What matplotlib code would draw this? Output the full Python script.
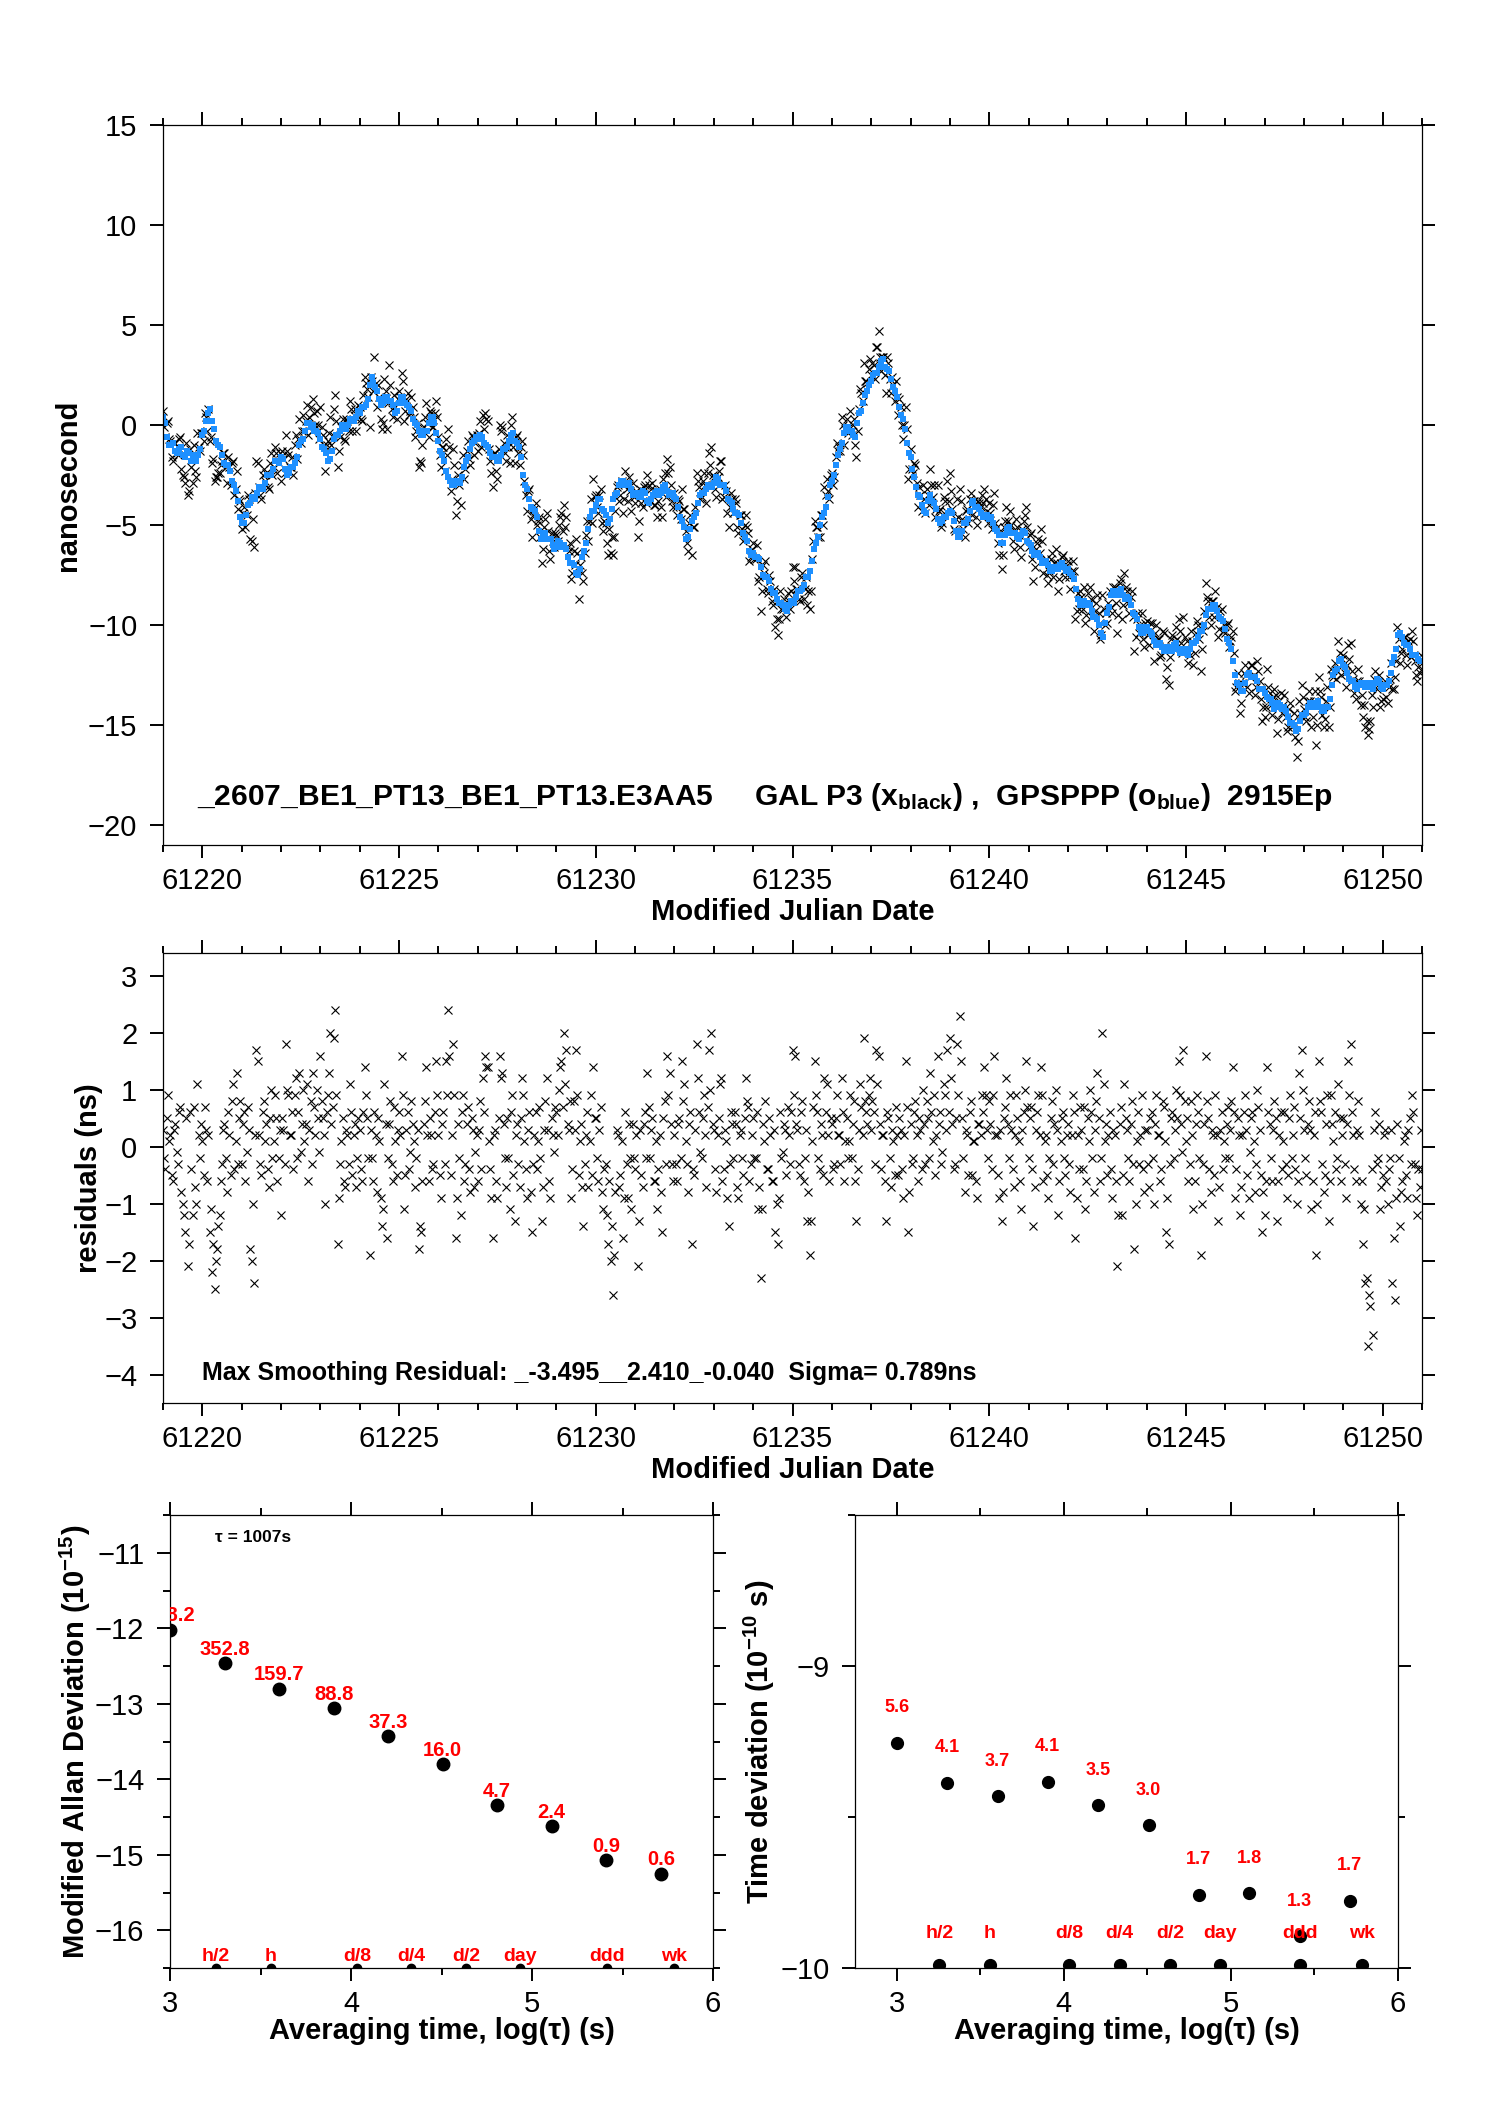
import numpy as np
import matplotlib
matplotlib.use('Agg')
import matplotlib.pyplot as plt
from matplotlib.ticker import MultipleLocator, FormatStrFormatter

plt.rcParams['font.family'] = ['Liberation Sans', 'DejaVu Sans']
plt.rcParams['mathtext.fontset'] = 'custom'
plt.rcParams['mathtext.rm'] = 'Liberation Sans'
plt.rcParams['mathtext.bf'] = 'Liberation Sans:bold'
plt.rcParams['mathtext.it'] = 'Liberation Sans:italic'

mjd0 = 61219.0

# GPSPPP clock offset (blue), 10 samples per day, ns
gpsppp = [
    0.4, -0.6, -1.0, -1.3, -1.2, -1.5, -1.3, -1.8, -1.6, -1.5,
    -0.5, 0.2, 0.8, -0.2, -1.0, -1.5, -2.0, -2.3, -3.0, -3.8,
    -4.9, -4.5, -3.9, -3.7, -3.4, -3.2, -2.9, -2.5, -2.2, -1.8,
    -1.6, -2.2, -2.4, -2.1, -1.6, -0.8, -0.3, 0.1, 0.0, -0.3,
    -0.7, -1.2, -1.8, -1.3, -0.5, -0.3, -0.1, 0.0, 0.2, 0.4,
    0.6, 0.9, 1.3, 2.4, 1.9, 1.3, 1.1, 1.4, 1.2, 0.6,
    1.1, 1.4, 1.0, 0.7, 0.1, -0.3, -0.5, -0.3, 0.4, 0.1,
    -0.8, -1.5, -2.3, -2.8, -3.0, -2.9, -2.6, -1.8, -1.2, -0.8,
    -0.7, -0.6, -1.0, -1.4, -1.6, -1.8, -1.5, -1.2, -0.8, -0.4,
    -0.9, -1.6, -3.0, -3.7, -4.2, -4.6, -5.7, -5.4, -5.7, -6.0,
    -6.1, -5.9, -6.0, -6.6, -6.9, -7.4, -7.2, -6.3, -5.2, -4.3,
    -4.0, -3.7, -4.3, -4.9, -4.2, -3.5, -3.0, -2.8, -2.9, -3.2,
    -3.5, -3.6, -3.3, -3.8, -3.7, -3.4, -3.5, -3.1, -3.3, -3.4,
    -3.6, -4.1, -4.8, -5.7, -5.2, -4.6, -3.9, -3.4, -3.2, -3.0,
    -2.9, -2.7, -3.0, -3.3, -3.8, -4.2, -4.4, -4.9, -5.6, -6.3,
    -6.4, -6.6, -7.1, -7.6, -7.8, -8.4, -8.7, -8.9, -9.2, -9.0,
    -8.8, -8.6, -8.3, -8.0, -7.6, -6.8, -5.9, -5.0, -4.4, -3.6,
    -2.8, -2.0, -1.2, -0.4, -0.1, -0.3, -0.6, 0.6, 1.1, 1.7,
    2.2, 2.6, 2.9, 3.3, 2.8, 2.3, 1.7, 0.9, 0.3, -0.9,
    -1.6, -2.6, -3.5, -4.0, -4.4, -3.5, -3.9, -4.7, -4.8, -4.6,
    -4.3, -4.8, -5.6, -5.3, -4.9, -4.3, -3.8, -4.1, -4.4, -4.6,
    -4.7, -4.9, -5.3, -5.9, -5.5, -5.1, -5.4, -5.6, -5.5, -5.4,
    -5.9, -6.3, -6.5, -6.6, -6.9, -7.0, -7.3, -7.2, -7.0, -7.1,
    -7.2, -7.5, -8.2, -9.0, -8.8, -8.9, -9.3, -9.6, -10.0, -10.6,
    -9.4, -8.5, -8.3, -8.3, -8.5, -8.6, -9.0, -9.5, -10.1, -10.4,
    -10.1, -10.4, -10.8, -10.9, -11.1, -11.2, -11.3, -11.0, -11.2, -11.3,
    -11.4, -11.2, -10.9, -10.6, -10.3, -9.5, -9.2, -9.0, -9.3, -9.7,
    -10.2, -10.9, -11.8, -12.9, -13.3, -12.9, -12.4, -12.6, -12.8, -13.2,
    -13.4, -13.7, -13.9, -14.1, -14.0, -14.1, -14.6, -14.9, -15.3, -14.8,
    -14.5, -14.1, -14.0, -13.9, -14.1, -14.3, -14.1, -13.0, -12.3, -11.8,
    -12.0, -12.4, -12.8, -13.1, -13.0, -12.9, -13.0, -13.1, -12.9, -12.8,
    -13.2, -13.0, -12.4, -11.6, -10.5, -10.6, -11.0, -11.2, -11.5, -11.7,
    -11.8,
]

# second GPSPPP set, half a step later
gpsppp_b = [
    0.1, -1.0, -0.9, -1.4, -1.1, -1.6, -1.4, -1.5, -1.8, -1.2,
    -0.3, 0.6, 0.2, -0.8, -1.1, -1.9, -2.0, -2.8, -3.3, -4.6,
    -4.9, -4.0, -3.6, -3.7, -3.1, -3.2, -2.5, -2.5, -1.8, -1.9,
    -1.7, -2.5, -2.1, -1.9, -1.0, -0.7, 0.1, -0.1, -0.3, -0.4,
    -1.1, -1.4, -1.7, -0.7, -0.5, 0.0, -0.2, 0.3, 0.2, 0.7,
    0.9, 1.0, 2.0, 2.1, 1.7, 1.0, 1.4, 1.2, 1.0, 0.7,
    1.4, 1.1, 0.9, 0.3, 0.0, -0.5, -0.3, 0.1, 0.4, -0.4,
    -1.3, -1.8, -2.6, -3.0, -2.8, -2.9, -2.1, -1.6, -0.9, -0.6,
    -0.5, -0.9, -1.1, -1.6, -1.6, -1.8, -1.2, -1.1, -0.5, -0.8,
    -1.1, -2.5, -3.2, -4.1, -4.3, -5.3, -5.4, -5.7, -5.7, -6.2,
    -5.8, -6.1, -6.2, -6.9, -7.0, -7.5, -6.6, -5.9, -4.6, -4.3,
    -3.7, -4.2, -4.5, -4.7, -3.7, -3.4, -2.8, -3.0, -2.9, -3.5,
    -3.4, -3.6, -3.4, -3.9, -3.5, -3.3, -3.4, -3.0, -3.5, -3.4,
    -3.7, -4.6, -5.1, -5.6, -4.8, -4.4, -3.5, -3.4, -3.0, -3.1,
    -2.6, -3.0, -3.0, -3.7, -3.9, -4.4, -4.5, -5.4, -5.8, -6.5,
    -6.6, -6.7, -7.5, -7.6, -8.2, -8.4, -8.9, -9.0, -9.3, -8.8,
    -8.9, -8.3, -8.2, -7.6, -7.3, -6.2, -5.6, -4.6, -4.1, -3.0,
    -2.5, -1.5, -0.9, -0.1, -0.3, -0.5, 0.1, 0.7, 1.5, 2.0,
    2.5, 2.6, 3.2, 2.9, 2.7, 1.9, 1.4, 0.5, -0.2, -1.4,
    -2.2, -3.1, -3.6, -4.3, -3.8, -3.8, -4.2, -4.9, -4.6, -4.4,
    -4.4, -5.3, -5.6, -4.9, -4.7, -3.9, -4.1, -4.2, -4.6, -4.5,
    -4.6, -5.2, -5.5, -5.9, -5.2, -5.4, -5.4, -5.7, -5.3, -5.8,
    -6.0, -6.5, -6.4, -6.9, -6.8, -7.3, -7.1, -7.2, -6.9, -7.3,
    -7.4, -7.7, -8.7, -8.8, -9.0, -9.0, -9.6, -9.7, -10.4, -9.9,
    -9.1, -8.3, -8.5, -8.2, -8.7, -8.7, -9.4, -9.7, -10.4, -10.1,
    -10.3, -10.5, -11.0, -10.9, -11.3, -11.1, -11.3, -10.9, -11.4, -11.2,
    -11.5, -10.9, -10.8, -10.3, -10.0, -9.2, -9.2, -9.0, -9.6, -9.8,
    -10.7, -11.2, -12.5, -13.0, -13.3, -12.5, -12.6, -12.6, -13.2, -13.2,
    -13.6, -13.7, -14.2, -13.9, -14.2, -14.3, -14.9, -15.0, -15.2, -14.5,
    -14.4, -13.9, -14.1, -13.8, -14.3, -14.1, -13.7, -12.5, -12.2, -11.7,
    -12.1, -12.7, -12.8, -13.2, -12.9, -13.1, -12.9, -13.2, -12.7, -13.1,
    -13.0, -12.8, -11.9, -11.2, -10.4, -10.9, -11.0, -11.5, -11.5, -11.8,
]

# GAL P3 clock offset (black x), 16 samples per day, ns
galp3 = [
    0.7, -0.6, 0.2, -0.8, -1.8, -0.9, -1.5, -0.6, -2.5, -2.9, -3.5, -1.2, -2.9, -2.3, -0.4, -1.3,
    -0.4, 0.6, -0.3, -0.8, -1.9, -2.8, -2.6, -2.4, -1.8, -1.4, -2.9, -2.1, -1.9, -3.5, -2.3, -3.7,
    -5.2, -4.1, -4.5, -3.7, -5.8, -6.1, -1.8, -3.1, -3.7, -2.2, -2.4, -3.2, -1.4, -2.1, -1.4, -1.9,
    -2.8, -1.7, -0.5, -1.5, -2.1, -2.5, -0.5, -0.7, -0.9, 0.5, 0.2, -0.5, 0.9, 1.3, 0.0, 0.0,
    0.9, -0.5, -2.3, -0.8, 0.4, -0.5, 1.5, -2.1, -0.6, 0.3, -0.8, 0.2, 1.2, -0.3, 0.8, 0.3,
    0.9, 0.2, 2.4, 1.8, -0.1, 2.2, 3.4, 0.9, 1.4, -0.2, 2.3, -0.2, 3.0, 0.8, 1.5, 0.3,
    1.7, 2.6, 0.2, 1.3, 0.5, 1.4, 0.4, -0.3, -2.1, -1.9, -0.1, 1.1, -0.6, 0.6, -0.1, 1.2,
    -0.6, -2.1, -1.1, -0.7, -0.2, -3.3, -1.2, -4.5, -2.5, -4.0, -1.5, -2.2, -0.8, -2.0, -0.6, -0.9,
    -1.3, 0.2, 0.5, 0.6, 0.2, -1.8, -3.1, -1.4, -2.7, 0.0, -0.1, -1.4, -0.5, -1.9, 0.4, -1.9,
    -0.5, -2.0, -0.8, -2.8, -4.3, -3.2, -5.6, -4.2, -5.0, -4.6, -6.9, -5.1, -4.4, -6.3, -5.4, -6.1,
    -5.5, -5.0, -4.4, -4.0, -4.6, -6.3, -7.7, -6.3, -5.7, -8.7, -6.6, -7.8, -5.5, -5.8, -3.7, -2.7,
    -3.5, -4.4, -3.2, -5.3, -4.9, -6.5, -6.4, -6.5, -4.3, -3.0, -3.5, -4.4, -2.3, -3.8, -3.3, -2.9,
    -3.9, -5.6, -3.2, -4.1, -3.0, -2.5, -3.8, -2.9, -4.0, -4.6, -3.2, -4.6, -2.4, -1.7, -2.1, -3.8,
    -3.4, -4.5, -3.8, -3.2, -4.2, -5.9, -4.9, -6.5, -5.1, -2.4, -3.1, -3.6, -2.4, -3.9, -1.4, -1.1,
    -2.6, -3.6, -2.3, -1.8, -3.6, -3.3, -5.1, -3.4, -4.4, -3.9, -5.4, -4.5, -5.8, -4.5, -5.4, -6.6,
    -5.9, -6.7, -7.8, -9.3, -7.0, -6.8, -8.4, -7.8, -9.0, -10.1, -10.5, -8.3, -9.2, -8.9, -8.4, -9.2,
    -7.1, -7.1, -8.2, -8.8, -7.4, -8.2, -9.0, -9.2, -6.7, -4.8, -5.1, -5.6, -4.5, -3.1, -2.7, -3.7,
    -2.4, -2.6, -0.9, -1.1, 0.4, -1.0, 0.3, -0.1, -0.5, 0.3, -1.6, 0.8, 1.6, 3.1, 2.2, 2.8,
    2.5, 3.0, 3.9, 4.7, 2.7, 3.4, 1.6, 3.1, 1.6, 2.0, 2.2, 0.5, 0.9, -0.7, 0.9, -2.7,
    -1.2, -2.4, -2.0, -4.1, -3.5, -3.0, -4.4, -3.5, -2.2, -3.6, -4.6, -3.0, -4.2, -4.9, -3.8, -2.8,
    -2.4, -4.2, -5.3, -3.7, -3.2, -4.7, -5.6, -4.2, -3.7, -4.5, -3.8, -5.0, -3.9, -3.5, -3.2, -4.3,
    -3.9, -5.2, -3.4, -5.1, -6.5, -7.2, -5.1, -4.1, -5.3, -5.0, -6.2, -4.7, -5.5, -6.6, -4.8, -4.1,
    -6.1, -5.4, -7.8, -6.2, -5.7, -5.2, -7.4, -6.7, -7.9, -6.7, -7.6, -6.2, -8.3, -6.9, -6.5, -7.6,
    -6.8, -8.2, -6.8, -9.7, -8.4, -8.3, -9.2, -9.9, -8.4, -8.1, -9.6, -9.3, -8.5, -10.7, -8.5, -10.0,
    -9.9, -8.3, -9.4, -8.1, -10.4, -7.9, -9.7, -7.4, -8.3, -9.4, -8.3, -11.3, -9.7, -10.4, -9.4, -11.1,
    -9.8, -11.0, -9.9, -11.8, -10.0, -10.7, -11.5, -10.4, -12.7, -13.0, -10.7, -11.2, -10.1, -9.7, -10.9, -9.6,
    -11.3, -11.9, -10.3, -12.0, -10.4, -10.0, -12.3, -10.3, -7.9, -8.8, -10.0, -8.8, -8.3, -10.6, -9.3, -10.3,
    -10.4, -9.9, -10.8, -10.3, -13.3, -12.4, -14.4, -12.9, -12.0, -13.1, -12.6, -12.0, -13.5, -11.8, -12.8, -14.8,
    -14.6, -12.2, -13.4, -14.5, -13.2, -15.4, -13.8, -14.4, -13.5, -15.3, -14.2, -15.1, -14.4, -16.6, -13.8, -13.0,
    -14.2, -14.8, -13.3, -15.1, -13.8, -16.0, -12.6, -13.6, -15.1, -13.8, -15.1, -12.2, -12.6, -12.7, -10.8, -12.5,
    -11.5, -13.1, -11.0, -10.9, -12.7, -13.7, -12.2, -14.0, -14.6, -15.1, -15.5, -14.8, -14.1, -12.3, -13.0, -14.1,
    -13.7, -12.8, -13.9, -12.7, -13.2, -12.6, -10.1, -11.9, -11.2, -10.6, -12.0, -10.7, -10.3, -11.8, -12.8, -12.4,
    -12.2,
]

# second GAL P3 set, half a step later
galp3_b = [
    -0.1, 0.1, -0.7, -1.6, -0.9, -1.4, -0.7, -2.2, -2.6, -0.9, -3.3, -2.1, -1.0, -2.6, -1.1, -0.4,
    -0.8, 0.4, 0.8, -0.6, -1.7, -2.6, -2.4, -2.0, -1.4, -2.1, -1.6, -3.0, -1.8, -3.2, -4.2, -3.8,
    -4.4, -5.1, -3.5, -5.7, -4.7, -3.4, -1.9, -3.5, -2.5, -2.8, -3.1, -1.9, -2.5, -1.1, -2.4, -1.4,
    -1.3, -2.4, -1.3, -2.1, -1.6, -1.0, -1.7, 0.3, -0.3, -0.3, 1.0, 0.4, -0.3, 0.6, 0.7, -0.7,
    -0.1, -1.0, -1.0, -0.4, -1.0, 0.8, 0.2, -1.3, -0.1, -0.7, 0.3, -0.3, 0.8, 0.5, -0.3, 1.0,
    0.3, 1.5, 2.1, 1.4, 2.4, 1.7, 2.1, 2.0, 0.3, 0.1, 1.7, 1.1, 2.0, 0.4, 0.9, 1.3,
    1.4, 2.2, 0.7, 1.6, 0.7, 0.9, -0.6, 0.1, -1.8, -1.0, 0.4, 0.1, 0.7, -0.1, 0.6, 0.4,
    -1.5, -1.1, -2.3, -1.5, -1.1, -2.7, -2.0, -3.8, -3.0, -2.0, -2.7, -1.3, -1.7, -0.5, -1.5, -0.5,
    -0.4, -1.1, -0.2, 0.3, -1.2, -2.4, -1.4, -2.3, -1.2, -0.3, -0.9, -1.8, -1.1, 0.0, -1.1, -0.6,
    -1.4, -1.1, -1.5, -3.5, -3.3, -4.7, -4.5, -3.9, -4.8, -5.6, -6.2, -4.7, -5.3, -6.7, -5.8, -5.4,
    -5.8, -4.6, -5.3, -5.1, -6.1, -5.9, -7.4, -7.0, -6.4, -7.0, -7.4, -6.4, -4.8, -4.8, -4.9, -3.6,
    -4.1, -3.5, -4.9, -4.8, -5.9, -5.2, -5.6, -5.6, -3.1, -3.8, -2.8, -3.7, -3.2, -2.6, -4.3, -3.6,
    -3.3, -4.8, -3.9, -3.1, -3.9, -3.0, -3.2, -4.0, -3.3, -3.8, -4.1, -2.7, -3.6, -2.4, -3.0, -4.1,
    -4.1, -3.7, -4.7, -4.2, -5.3, -6.3, -4.5, -5.1, -4.1, -2.8, -3.7, -2.8, -3.0, -2.4, -2.0, -2.5,
    -3.2, -2.6, -1.8, -3.7, -3.0, -4.4, -4.1, -3.7, -3.7, -5.1, -4.5, -5.2, -5.0, -5.1, -6.8, -6.2,
    -6.7, -6.0, -7.6, -8.3, -7.4, -8.2, -7.5, -8.8, -8.2, -9.7, -9.7, -9.2, -8.7, -9.6, -8.8, -8.3,
    -7.8, -8.2, -8.7, -7.6, -8.7, -7.6, -8.3, -8.3, -5.8, -5.1, -5.6, -4.5, -5.0, -3.5, -3.3, -2.5,
    -3.0, -1.6, -1.3, -1.3, 0.0, -0.2, -0.4, 0.7, 0.0, -1.0, -0.3, 1.8, 1.2, 2.2, 2.1, 3.3,
    3.1, 2.3, 3.9, 3.4, 3.4, 2.5, 3.4, 2.3, 2.4, 1.2, 1.4, 1.3, 0.0, 0.0, -0.2, -2.2,
    -2.2, -1.9, -2.9, -3.1, -4.3, -3.7, -3.2, -4.0, -3.0, -3.0, -4.2, -4.3, -5.1, -3.6, -4.3, -3.8,
    -3.3, -5.2, -4.7, -4.6, -3.8, -5.2, -4.3, -4.9, -3.4, -3.8, -4.6, -3.8, -4.1, -3.9, -3.7, -4.9,
    -4.4, -4.0, -4.9, -5.9, -5.4, -6.5, -4.8, -4.8, -4.3, -5.8, -5.3, -5.1, -6.1, -5.2, -4.5, -5.1,
    -5.5, -6.7, -7.1, -5.9, -6.4, -5.8, -6.8, -7.5, -7.3, -6.4, -6.9, -6.9, -7.7, -6.6, -7.3, -7.0,
    -7.6, -7.3, -7.3, -9.3, -9.2, -8.6, -8.1, -9.5, -8.9, -8.7, -10.3, -8.9, -9.4, -10.5, -9.2, -9.4,
    -8.9, -9.1, -8.1, -8.9, -9.5, -7.7, -9.0, -8.1, -8.9, -8.6, -9.6, -10.6, -9.4, -10.0, -10.7, -9.9,
    -10.5, -9.9, -10.8, -10.4, -10.7, -11.6, -10.3, -11.1, -12.1, -11.6, -10.5, -10.8, -10.7, -10.3, -11.4, -10.6,
    -10.8, -11.5, -10.8, -11.4, -9.8, -10.7, -11.2, -9.3, -8.6, -9.6, -8.8, -9.6, -9.1, -10.2, -9.2, -10.0,
    -10.0, -11.1, -10.6, -11.4, -13.1, -12.9, -13.9, -12.4, -12.5, -13.4, -12.0, -12.5, -13.1, -12.3, -13.7, -14.1,
    -14.1, -13.1, -14.0, -13.6, -13.5, -14.7, -13.4, -14.0, -14.6, -15.1, -13.9, -14.8, -15.6, -15.8, -14.4, -13.6,
    -14.6, -13.8, -13.8, -14.6, -13.3, -15.0, -13.3, -14.5, -14.7, -13.1, -14.1, -12.5, -11.9, -12.3, -11.4, -11.7,
    -12.4, -12.0, -11.7, -12.3, -13.4, -12.8, -12.8, -13.5, -14.0, -14.8, -15.2, -13.5, -12.7, -13.2, -12.5, -13.8,
    -12.9, -13.6, -13.1, -11.9, -13.2, -11.8, -10.7, -11.4, -10.6, -11.5, -10.8, -11.6, -10.8, -12.5, -12.1, -11.5,
]

# smoothing residuals of GAL P3, 16 samples per day, ns
resid = [
    0.3, -0.4, 0.9, 0.2, -0.6, 0.4, -0.3, 0.7, -1.0, -1.5, -2.1, 0.6, -1.2, -0.7, 1.1, -0.2,
    0.1, 0.7, -0.6, -1.5, -2.2, -2.5, -1.8, -1.2, -0.3, 0.4, -0.8, 0.2, 0.8, -0.4, 1.3, 0.5,
    -0.3, 0.6, -0.1, 0.3, -2.0, -2.4, 1.7, 0.2, -0.5, 0.8, 0.4, -0.7, 1.0, 0.1, 0.5, -0.2,
    -1.2, 0.3, 1.8, 0.9, 0.2, -0.4, 1.2, 0.6, -0.1, 1.0, 0.4, -0.6, 0.8, 1.3, 0.2, 0.5,
    1.6, 0.5, -1.0, 0.9, 2.0, 0.7, 2.4, -1.7, -0.3, 0.5, -0.7, 0.2, 1.1, -0.5, 0.4, -0.2,
    0.3, -0.6, 1.4, 0.5, -1.9, -0.2, 0.6, -0.8, 0.1, -1.4, 1.1, -1.6, 0.4, -0.3, 0.7, -0.5,
    0.6, 1.6, -1.1, 0.3, -0.4, 0.8, 0.1, -0.2, -1.8, -1.5, 0.4, 1.4, -0.6, 0.2, -0.3, 1.5,
    0.2, -0.9, 0.6, 1.5, 2.4, -0.5, 1.8, -1.6, 0.4, -1.2, 0.9, -0.3, 0.7, -0.8, 0.3, -0.1,
    -0.6, 0.8, 1.2, 1.6, 1.4, -0.4, -1.6, 0.3, -0.9, 1.6, 1.3, -0.2, 0.5, -1.1, 0.9, -1.3,
    0.4, -0.7, 1.2, 0.1, -0.9, 0.6, -1.5, 0.2, -0.4, 0.7, -1.3, 0.3, 1.2, -0.6, 0.5, -0.1,
    0.6, 1.0, 1.5, 2.0, 1.7, 0.3, -0.9, 0.8, 1.7, -0.5, 0.4, -1.4, 0.2, -0.7, 0.9, 1.4,
    0.5, -0.6, 0.7, -1.1, -0.3, -1.7, -2.0, -2.6, -0.8, 0.2, -0.5, -1.6, 0.6, -0.9, -0.2, 0.4,
    -0.4, -2.1, 0.3, -0.7, 0.6, 1.3, -0.2, 0.5, -0.6, -1.1, 0.2, -1.5, 0.8, 1.6, 1.3, -0.3,
    0.2, -0.6, 0.5, 1.5, 1.1, -0.3, 0.4, -1.7, -0.5, 1.8, 0.6, -0.2, 0.9, -0.7, 1.7, 2.0,
    0.3, -0.8, 0.5, 1.2, -0.4, 0.1, -1.4, 0.6, -0.2, 0.4, -0.9, 0.3, -0.5, 1.2, 0.7, -0.3,
    0.5, -0.2, -1.1, -2.3, 0.4, 0.8, -0.4, 0.2, -0.6, -1.5, -1.7, 0.6, -0.1, 0.3, 0.7, -0.3,
    1.7, 1.6, 0.3, -0.5, 0.8, -0.2, -1.3, -1.9, 0.1, 1.5, 0.6, -0.4, 0.2, 1.2, 1.1, -0.6,
    0.4, -0.3, 0.9, 0.2, 1.2, -0.6, 0.5, 0.1, -0.2, 0.8, -1.3, 0.3, 0.7, 1.9, 0.6, 0.9,
    0.3, 0.6, 1.7, 1.6, -0.4, 0.2, -1.3, 0.5, -0.7, 0.1, 0.7, -0.5, 0.3, -0.9, 1.5, -1.5,
    0.4, -0.2, 0.8, -0.6, 0.3, 1.0, -0.3, 0.5, 1.3, 0.1, -0.5, 1.6, 0.6, -0.1, 0.9, 1.7,
    1.9, 0.4, -0.3, 1.8, 2.3, 0.5, -0.8, 0.2, 0.6, -0.5, 0.1, -0.9, 0.4, 0.9, 1.4, 0.3,
    0.8, -0.4, 1.6, 0.2, -0.9, -1.3, 0.5, 1.2, -0.2, 0.3, -0.7, 0.9, 0.1, -1.1, 0.6, 1.5,
    -0.2, 0.7, -1.4, 0.3, 0.9, 1.4, -0.6, 0.2, -0.9, 0.5, -0.3, 1.0, -1.2, 0.1, 0.6, -0.5,
    0.4, -0.8, 0.9, -1.6, 0.2, 0.7, -0.4, -1.1, 0.5, 1.0, -0.2, 0.3, 1.3, -0.6, 2.0, 0.1,
    -0.5, 0.6, -0.9, 0.2, -2.1, 0.4, -1.2, 1.1, 0.3, -0.6, 0.8, -1.8, 0.1, -0.3, 0.9, -0.8,
    0.3, -0.7, 0.6, -1.0, 0.9, 0.2, -0.4, 0.7, -1.5, -1.7, 0.5, -0.2, 1.0, 1.5, 0.4, 1.7,
    0.1, -0.6, 0.8, -1.1, 0.4, 0.6, -1.9, -0.3, 1.6, 0.5, -0.8, 0.2, 0.9, -1.3, 0.3, -0.4,
    -0.2, 0.7, 0.3, 1.4, -0.9, 0.5, -1.2, 0.2, 0.9, -0.5, -0.1, 0.6, -0.8, 1.0, 0.3, -1.5,
    -1.2, 1.4, 0.4, -0.6, 0.8, -1.3, 0.2, -0.4, 0.6, -0.9, 0.5, -0.2, 0.7, -1.0, 1.3, 1.7,
    0.3, -0.5, 0.8, -1.1, 0.2, -1.9, 1.5, 0.6, -0.8, 0.4, -1.3, 0.9, 0.1, -0.4, 1.1, -0.6,
    0.5, -0.9, 1.5, 1.8, 0.2, -0.6, 0.8, -1.0, -1.7, -2.4, -3.5, -2.8, -3.3, 0.6, -0.2, -1.1,
    -0.5, 0.3, -1.0, -0.2, -2.4, -2.7, 0.4, -1.4, -0.6, 0.2, -0.9, 0.5, 0.9, -0.3, -1.2, -0.7,
    -0.4,
]

# second residual set, half a step later
resid_b = [
    -0.2, 0.5, 0.1, -0.5, 0.3, -0.1, 0.6, -0.8, -1.2, 0.5, -1.7, -0.4, 0.7, -1.0, 0.2, 0.4,
    -0.5, 0.3, 0.2, -1.1, -1.7, -2.0, -1.4, -0.6, 0.3, -0.2, 0.6, -0.5, 1.1, 0.1, -0.3, 0.8,
    0.4, -0.6, 0.7, -1.8, -1.0, 0.2, 1.5, -0.3, 0.6, 0.1, -0.4, 0.5, -0.2, 0.9, -0.6, 0.3,
    0.5, -0.3, 1.0, 0.2, 0.6, 0.9, -0.2, 1.3, 0.4, 0.1, 1.1, 0.3, -0.3, 0.7, 1.0, -0.1,
    0.8, 0.2, 0.6, 1.3, 0.4, 1.9, 0.9, -0.9, 0.1, -0.6, 0.3, -0.3, 0.6, 0.2, -0.7, 0.5,
    -0.4, 0.6, 0.9, -0.2, 0.3, -0.6, 0.2, 0.5, -0.9, -1.1, 0.4, -0.2, 0.8, -0.6, 0.1, 0.3,
    0.2, 0.9, -0.5, 0.6, -0.1, 0.4, -0.7, 0.3, -1.4, -0.6, 0.8, 0.2, 0.5, -0.4, 0.6, 0.9,
    -0.5, 0.4, -0.3, 0.9, 1.6, 0.2, 0.9, -0.9, -0.2, 0.6, -0.6, 0.4, -0.4, 0.5, -0.7, 0.2,
    0.3, -0.4, 0.6, 1.4, 0.1, -0.9, 0.2, -0.6, 0.5, 1.2, 0.4, -0.7, -0.2, 0.6, -0.5, 0.2,
    -0.3, 0.5, 0.9, -0.4, 0.3, -0.8, -0.3, 0.6, 0.1, -0.2, -0.7, 0.8, 0.3, -0.9, 0.2, 0.7,
    0.2, 1.4, 0.7, 1.1, 0.4, 0.8, -0.4, 0.3, 0.9, 0.1, -0.7, -0.3, 0.6, 0.1, -0.5, 0.5,
    -0.2, 0.3, -0.8, -0.4, -1.2, -0.6, -1.4, -1.9, 0.3, -0.7, 0.1, -0.9, -0.3, 0.4, -1.1, -0.2,
    0.2, -1.3, -0.5, 0.4, -0.2, 0.7, 0.3, -0.6, 0.1, -0.4, -0.8, 0.5, -0.3, 0.9, 0.4, -0.6,
    -0.3, 0.4, -0.2, 0.8, 0.1, -0.8, 0.6, -0.4, 0.3, 1.2, -0.1, 0.5, 0.2, 0.7, 1.0, 0.4,
    -0.4, 0.2, 1.1, -0.6, 0.3, -0.9, -0.3, 0.4, 0.6, -0.7, 0.2, -0.2, 0.5, 0.8, -0.6, 0.2,
    -0.2, 0.6, -0.7, -1.1, 0.1, -0.4, 0.5, -0.6, 0.3, -1.0, -0.9, -0.2, 0.4, -0.5, 0.2, 0.6,
    0.9, 0.4, -0.3, 0.6, -0.6, 0.3, -0.8, -1.3, 0.7, 0.9, -0.2, 0.4, -0.5, 0.6, 0.2, 0.5,
    -0.4, 0.5, 0.2, -0.3, 0.6, 0.1, -0.2, 0.9, 0.4, -0.6, -0.4, 1.1, 0.2, 0.8, 0.4, 1.2,
    0.8, -0.3, 1.1, 0.4, 0.2, -0.6, 0.6, -0.2, 0.3, -0.5, 0.2, 0.5, -0.4, 0.2, 0.7, -0.8,
    -0.3, 0.6, 0.2, 0.5, -0.4, 0.4, 0.8, -0.2, 0.6, 0.9, 0.2, 0.4, -0.3, 1.1, 0.3, 0.6,
    1.2, -0.4, 0.5, 0.9, 1.5, -0.2, 0.3, -0.5, 0.8, 0.1, -0.6, 0.4, 0.2, 0.6, 0.9, -0.2,
    0.4, 0.9, 0.2, -0.5, 0.3, -0.8, 0.7, 0.4, 0.9, -0.4, 0.2, 0.5, -0.6, 0.3, 1.0, 0.7,
    0.5, -0.4, -0.7, 0.6, 0.2, 0.9, 0.1, -0.5, -0.2, 0.8, 0.4, 0.3, -0.6, 0.5, -0.2, 0.2,
    -0.3, 0.2, 0.6, -0.9, -0.4, 0.3, 0.7, -0.6, 0.1, 0.6, -0.8, 0.8, 0.5, -0.2, 1.1, 0.4,
    0.2, -0.4, 0.3, -0.6, -1.2, 0.7, -0.5, 0.5, -0.2, 0.4, -0.3, -1.0, 0.6, 0.2, -0.4, 0.3,
    -0.3, 0.5, -0.2, 0.4, 0.2, -0.6, 0.8, 0.1, -0.9, -0.3, 0.6, 0.3, 0.5, 0.9, -0.1, 0.8,
    0.5, -0.3, 0.2, -0.6, 0.9, -0.2, -1.0, 0.4, 0.8, -0.4, 0.3, -0.5, 0.2, -0.7, 0.6, 0.1,
    0.4, -0.2, 0.8, 0.6, -0.4, 0.2, -0.7, 0.6, 0.3, -0.9, 0.5, 0.1, -0.3, 0.7, -0.5, -0.8,
    -0.6, 0.6, -0.2, 0.3, 0.5, -0.6, 0.6, 0.1, -0.3, -0.5, 0.9, 0.2, -0.4, -0.6, 0.5, 1.0,
    -0.2, 0.4, 0.3, -0.6, 0.6, -1.0, 0.8, -0.3, -0.5, 0.9, -0.6, 0.4, 0.6, -0.2, 0.5, 0.2,
    -0.3, 0.4, 0.9, 0.6, -0.4, 0.3, 0.2, -0.6, -1.1, -2.3, -2.6, -0.4, 0.3, -0.3, 0.4, -0.7,
    0.2, -0.6, -0.4, 0.3, -1.6, -0.9, -0.2, -0.8, 0.1, -0.5, 0.3, -0.3, 0.6, -0.9, -0.4, 0.3,
]

# stability plots: log10(tau) and log10 of deviations
log_tau = [3.00, 3.303, 3.603, 3.904, 4.204, 4.507, 4.808, 5.108, 5.411, 5.712]
mod_adev = [-12.02, -12.46, -12.80, -13.06, -13.43, -13.80, -14.34, -14.62, -15.07, -15.25]
mod_adev_lbl = ['958.2', '352.8', '159.7', '88.8', '37.3', '16.0', '4.7', '2.4', '0.9', '0.6']
tdev = [-9.254, -9.387, -9.431, -9.384, -9.461, -9.527, -9.758, -9.752, -9.895, -9.778]
tdev_lbl = ['5.6', '4.1', '3.7', '4.1', '3.5', '3.0', '1.7', '1.8', '1.3', '1.7']
mark_tau = [3.255, 3.556, 4.033, 4.334, 4.635, 4.936, 5.414, 5.782]
mark_lbl = ['h/2', 'h', 'd/8', 'd/4', 'd/2', 'day', 'ddd', 'wk']

t_blue = mjd0 + np.arange(len(gpsppp)) / 10.0
t_blue_b = mjd0 + 0.05 + np.arange(len(gpsppp_b)) / 10.0
t_gal = mjd0 + np.arange(len(galp3)) / 16.0
t_gal_b = mjd0 + 1 / 32 + np.arange(len(galp3_b)) / 16.0

W, H = 1488, 2105
fig = plt.figure(figsize=(W / 100, H / 100), dpi=100)


def rect(l, t, r, b):
    return [l / W, 1 - b / H, (r - l) / W, (b - t) / H]


ax1 = fig.add_axes(rect(163, 125, 1422, 845))
ax2 = fig.add_axes(rect(163, 953, 1422, 1403))
ax3 = fig.add_axes(rect(170, 1515, 713, 1968))
ax4 = fig.add_axes(rect(855, 1515, 1398, 1968))


def style(ax, xmaj, xmin, ymaj, ymin=None):
    ax.xaxis.set_major_locator(MultipleLocator(xmaj))
    ax.xaxis.set_minor_locator(MultipleLocator(xmin))
    ax.yaxis.set_major_locator(MultipleLocator(ymaj))
    if ymin:
        ax.yaxis.set_minor_locator(MultipleLocator(ymin))
    ax.tick_params(which='both', direction='out', top=True, right=True,
                   width=1.4, labelsize=21)
    ax.tick_params(which='major', length=9.5)
    ax.tick_params(which='minor', length=5)
    ax.tick_params(axis='x', pad=6)
    ax.tick_params(axis='y', pad=9)
    for s in ax.spines.values():
        s.set_linewidth(0.9)


lab = dict(fontsize=21, fontweight='bold')
xmk = dict(color='black', ms=5.5, mew=0.8, ls='none', marker='x')
bmk = dict(color='#1e90ff', ms=4.0, mew=0, ls='none', marker='s')

# clock offsets
ax1.plot(t_gal, galp3, **xmk)
ax1.plot(t_gal_b, galp3_b, **xmk)
ax1.plot(t_blue, gpsppp, **bmk)
ax1.plot(t_blue_b, gpsppp_b, **bmk)
ax1.set_xlim(61219.0, 61251.0)
ax1.set_ylim(-21, 15)
style(ax1, 5, 1, 5)
ax1.xaxis.set_major_formatter(FormatStrFormatter('%d'))
ax1.set_ylabel('nanosecond', **lab)
ax1.yaxis.set_label_coords(-0.064, 0.5)
ax1.set_xlabel('Modified Julian Date', **lab)
ax1.xaxis.set_label_coords(0.5, -0.073)
ax1.text(61219.86, -19.0,
         '_2607_BE1_PT13_BE1_PT13.E3AA5     GAL P3 (x$_{\\mathbf{black}}$) ,  '
         'GPSPPP (o$_{\\mathbf{blue}}$)  2915Ep',
         fontsize=21.6, fontweight='bold', va='baseline')

# residuals
ax2.plot(t_gal, resid, **xmk)
ax2.plot(t_gal_b, resid_b, **xmk)
ax2.set_xlim(61219.0, 61251.0)
ax2.set_ylim(-4.5, 3.4)
style(ax2, 5, 1, 1)
ax2.xaxis.set_major_formatter(FormatStrFormatter('%d'))
ax2.set_ylabel('residuals (ns)', **lab)
ax2.yaxis.set_label_coords(-0.048, 0.5)
ax2.set_xlabel('Modified Julian Date', **lab)
ax2.xaxis.set_label_coords(0.5, -0.117)
ax2.text(61220.0, -4.1,
         'Max Smoothing Residual: _-3.495__2.410_-0.040  Sigma= 0.789ns',
         fontsize=18, fontweight='bold', va='baseline')

# modified Allan deviation
ax3.plot(log_tau, mod_adev, 'o', color='black', ms=9)
for x, y, s in zip(log_tau, mod_adev, mod_adev_lbl):
    ax3.annotate(s, (x, y), xytext=(0, 6), textcoords='offset points',
                 ha='center', va='baseline', color='red', fontsize=14.5,
                 fontweight='bold', clip_on=True)
ax3.plot(mark_tau, [-16.5] * len(mark_tau), 'o', color='black', ms=6)
for x, s in zip(mark_tau, mark_lbl):
    ax3.text(x, -16.41, s, ha='center', va='baseline', color='red',
             fontsize=14, fontweight='bold')
ax3.text(3.25, -10.86, 'τ = 1007s', fontsize=12.5, fontweight='bold')
ax3.set_xlim(3, 6)
ax3.set_ylim(-16.5, -10.5)
style(ax3, 1, 0.5, 1, 0.5)
ax3.set_ylabel('Modified Allan Deviation (10$^{\\mathbf{-15}}$)', **lab)
ax3.yaxis.set_label_coords(-0.141, 0.5)
ax3.set_xlabel('Averaging time, log(τ) (s)', **lab)
ax3.xaxis.set_label_coords(0.5, -0.108)

# time deviation
ax4.plot(log_tau, tdev, 'o', color='black', ms=8.5)
for x, y, s in zip(log_tau, tdev, tdev_lbl):
    ax4.annotate(s, (x, y), xytext=(0, 22), textcoords='offset points',
                 ha='center', va='baseline', color='red', fontsize=13,
                 fontweight='bold', clip_on=True)
ax4.plot(mark_tau, [-9.99] * len(mark_tau), 'o', color='black', ms=8.5)
for x, s in zip(mark_tau, mark_lbl):
    ax4.text(x, -9.90, s, ha='center', va='baseline', color='red',
             fontsize=14, fontweight='bold')
ax4.set_xlim(2.75, 6.0)
ax4.set_ylim(-10, -8.5)
style(ax4, 1, 0.5, 1, 0.5)
ax4.set_ylabel('Time deviation (10$^{\\mathbf{-10}}$ s)', **lab)
ax4.yaxis.set_label_coords(-0.143, 0.5)
ax4.set_xlabel('Averaging time, log(τ) (s)', **lab)
ax4.xaxis.set_label_coords(0.5, -0.108)

fig.savefig('out.png', dpi=100)
